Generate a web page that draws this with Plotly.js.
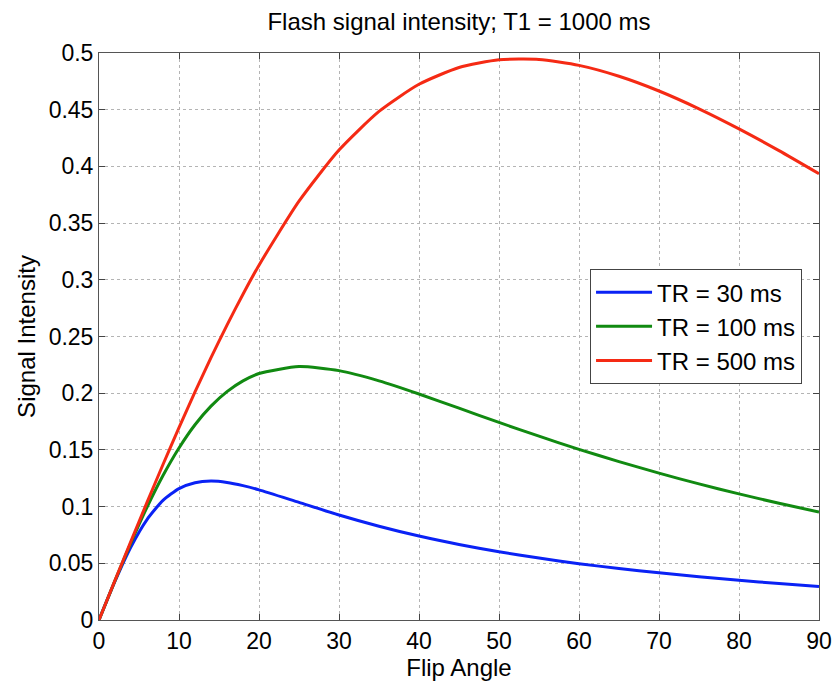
<!DOCTYPE html>
<html>
<head>
<meta charset="utf-8">
<script src="https://cdn.plot.ly/plotly-3.0.1.min.js"></script>
<style>html,body{margin:0;padding:0;background:#fff;}#chart{width:833px;height:687px;}</style>
</head>
<body>
<div id="chart"></div>
<script>
// Flip angles (degrees)
var flipAngle = [0,2,4,6,8,10,12,14,16,18,20,25,30,35,40,45,50,55,60,65,70,75,80,85,90];
// Signal intensity
var tr30 = [0,0.0342,0.0646,0.0886,0.1055,0.1159,0.1211,0.1225,0.1213,0.1185,0.1148,0.1037,0.0926,0.0827,0.0740,0.0666,0.0602,0.0546,0.0497,0.0454,0.0416,0.0381,0.0350,0.0322,0.0296];
var tr100 = [0,0.0347,0.0682,0.0994,0.1274,0.1517,0.1722,0.1886,0.2014,0.2109,0.2174,0.2235,0.2199,0.2109,0.1993,0.1868,0.1742,0.1621,0.1505,0.1397,0.1295,0.1200,0.1112,0.1029,0.0952];
var tr500 = [0,0.0349,0.0695,0.1037,0.1371,0.1697,0.2011,0.2313,0.2601,0.2873,0.3129,0.3693,0.4144,0.4485,0.4724,0.4872,0.4940,0.4943,0.4891,0.4795,0.4665,0.4508,0.4331,0.4139,0.3935];
var seriesNames = ['TR = 30 ms','TR = 100 ms','TR = 500 ms'];
var xTicks = [0,10,20,30,40,50,60,70,80,90];
var yTicks = [0,0.05,0.1,0.15,0.2,0.25,0.3,0.35,0.4,0.45,0.5];
var yTickText = ['0','0.05','0.1','0.15','0.2','0.25','0.3','0.35','0.4','0.45','0.5'];

var colors = ['#0a22f5','#118a11','#f52a14'];
var ys = [tr30, tr100, tr500];
var traces = ys.map(function(y, i){
  return {x: flipAngle, y: y, type: 'scatter', mode: 'lines', name: seriesNames[i],
          legendgroup: 'g'+i,
          line: {color: colors[i], width: 3, shape: 'spline', smoothing: 0.6}};
});

var font = 'Liberation Sans, Arial, Helvetica, sans-serif';
var axisCommon = {
  showline: true, linecolor: '#555', linewidth: 1, mirror: 'ticks',
  ticks: 'inside', ticklen: 6, tickcolor: '#444', tickwidth: 1,
  showgrid: true, gridcolor: '#b4b4b4', griddash: 'dot', gridwidth: 1,
  zeroline: false, tickfont: {family: font, size: 23, color: '#000'}
};
var layout = {
  width: 833, height: 687,
  margin: {l: 99, r: 14, t: 53, b: 67},
  paper_bgcolor: '#fff', plot_bgcolor: '#fff',
  font: {family: font, color: '#000'},
  title: {text: 'Flash signal intensity; T1 = 1000 ms', font: {family: font, size: 24, color: '#000'},
          x: 0.5, xref: 'paper', y: 1 - 22/687, yref: 'container', yanchor: 'middle'},
  xaxis: Object.assign({}, axisCommon, {range: [0, 90], tickvals: xTicks,
          title: {text: 'Flip Angle', font: {family: font, size: 24, color: '#000'}, standoff: 4}}),
  yaxis: Object.assign({}, axisCommon, {range: [0, 0.5], tickvals: yTicks, ticktext: yTickText,
          title: {text: 'Signal Intensity', font: {family: font, size: 24, color: '#000'}, standoff: 6}}),
  showlegend: true,
  legend: {x: 0.682, y: 0.619, xanchor: 'left', yanchor: 'top',
           bgcolor: '#fff', bordercolor: '#444', borderwidth: 1,
           font: {family: font, size: 24, color: '#000'},
           itemwidth: 56,
           traceorder: 'grouped', tracegroupgap: 0}
};
Plotly.newPlot('chart', traces, layout, {displayModeBar: false, staticPlot: true});
</script>
</body>
</html>
